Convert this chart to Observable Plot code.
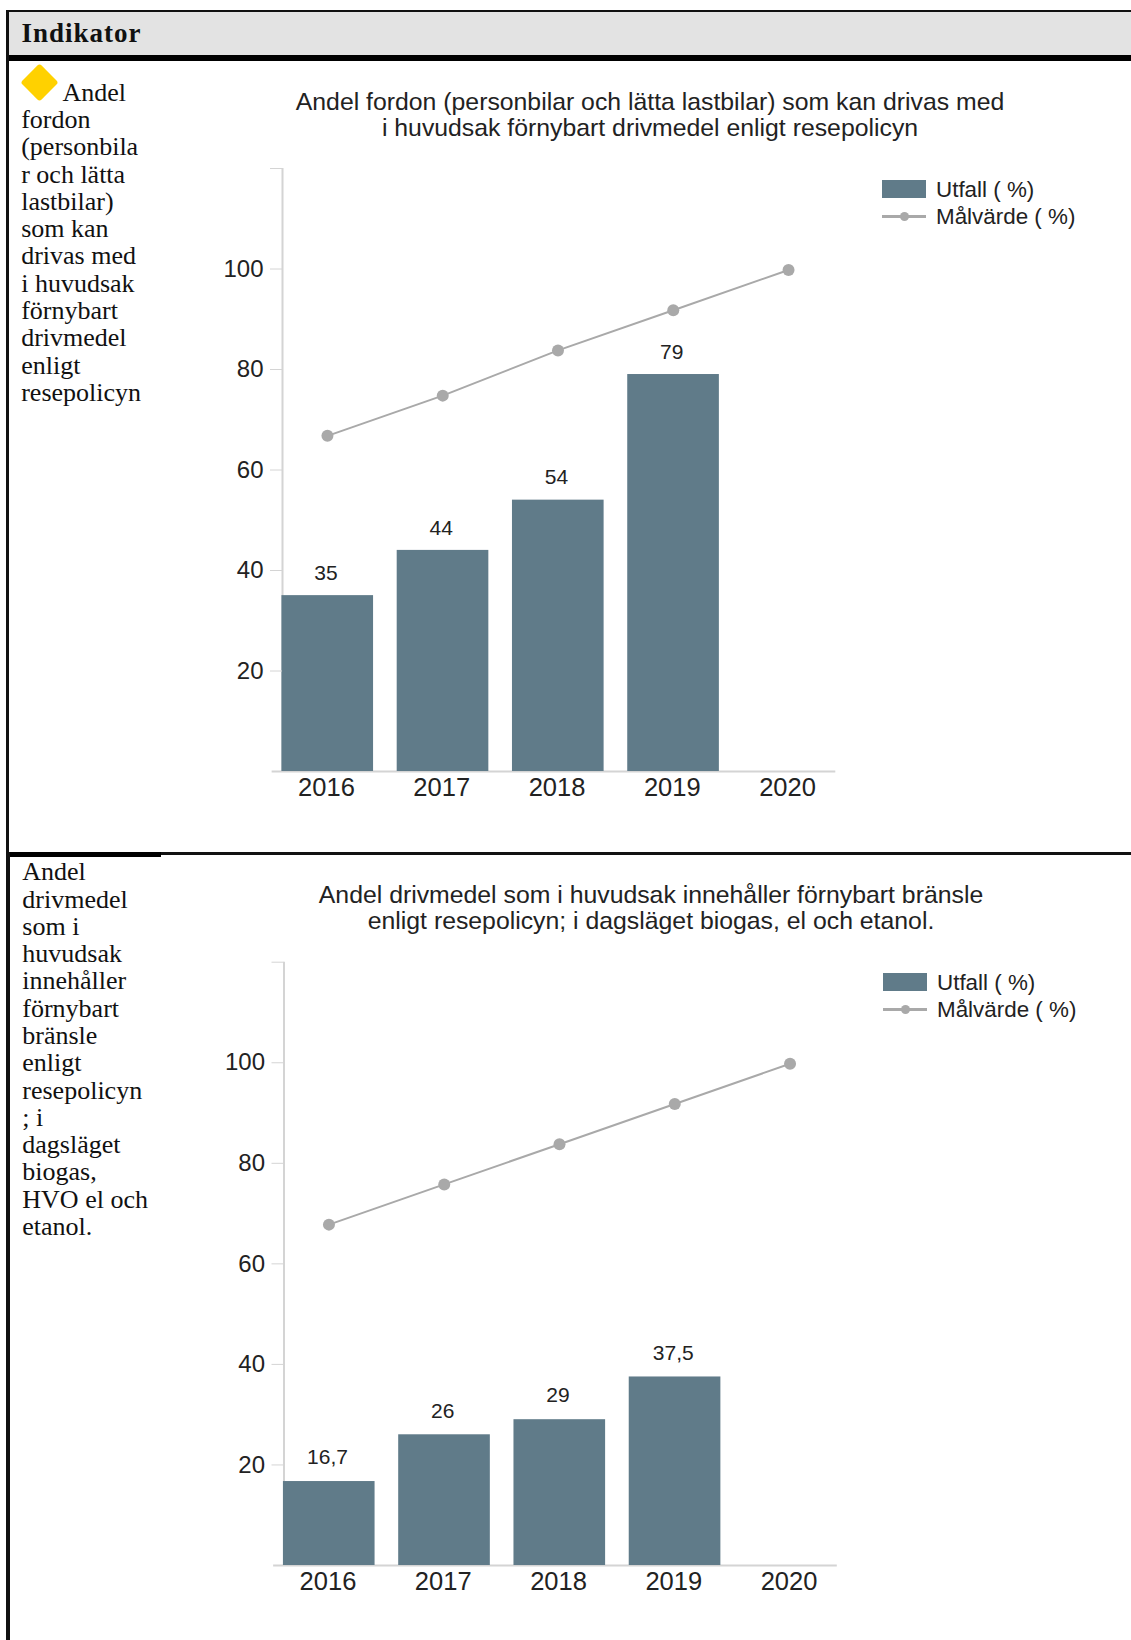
<!DOCTYPE html>
<html><head><meta charset="utf-8">
<script src="https://cdn.jsdelivr.net/npm/d3@7"></script>
<script src="https://cdn.jsdelivr.net/npm/@observablehq/plot@0.6"></script>
<style>
html,body{margin:0;padding:0;background:#fff;overflow:hidden;width:1131px;height:1640px;position:relative}
.abs{position:absolute}
.line{position:absolute;font:26px/27px "Liberation Serif",serif;color:#111;white-space:nowrap}
.title{position:absolute;font:24.8px/26px "Liberation Sans",Arial,sans-serif;color:#222;text-align:center;white-space:nowrap;transform:translateX(-50%)}
.leg{position:absolute;font:22.4px/26px "Liberation Sans",Arial,sans-serif;color:#222;white-space:nowrap}
</style></head><body>
<script>
const years = [2016, 2017, 2018, 2019, 2020];
const utfallA = [35, 44, 54, 79, null];
const malvardeA = [67, 75, 84, 92, 100];
const utfallB = [16.7, 26, 29, 37.5, null];
const malvardeB = [68, 76, 84, 92, 100];
const yTicks = [20, 40, 60, 80, 100, 120];
const titleA = ["Andel fordon (personbilar och lätta lastbilar) som kan drivas med", "i huvudsak förnybart drivmedel enligt resepolicyn"];
const titleB = ["Andel drivmedel som i huvudsak innehåller förnybart bränsle", "enligt resepolicyn; i dagsläget biogas, el och etanol."];
const textA = ["Andel", "fordon", "(personbila", "r och lätta", "lastbilar)", "som kan", "drivas med", "i huvudsak", "förnybart", "drivmedel", "enligt", "resepolicyn"];
const textB = ["Andel", "drivmedel", "som i", "huvudsak", "innehåller", "förnybart", "bränsle", "enligt", "resepolicyn", "; i", "dagsläget", "biogas,", "HVO el och", "etanol."];
const legendNames = ["Utfall ( %)", "Målvärde ( %)"];
const barColor = "#607b89", lineColor = "#a9a9a9", axisColor = "#d4d4d4", ink = "#222";

function box(x, y, w, h, bg) {
  const d = document.createElement("div");
  d.className = "abs";
  d.style.cssText = `left:${x}px;top:${y}px;width:${w}px;height:${h}px;background:${bg}`;
  document.body.appendChild(d);
}
function textLines(lines, x, base) {
  lines.forEach((t, i) => {
    const d = document.createElement("div");
    d.className = "line";
    d.textContent = t;
    d.style.left = (i === 0 && lines === textA ? 62.5 : x) + "px";
    d.style.top = (base + i * 27.28 - 21.7) + "px";
    document.body.appendChild(d);
  });
}
function chart(utfall, malvarde, top, marginLeft, marginRight, marginTop, marginBottom, labelDy, title, titleX, titleY, legX, legY) {
  const rows = years.map((year, i) => ({year, u: utfall[i], m: malvarde[i]}));
  const bars = rows.filter(d => d.u != null);
  const svg = Plot.plot({
    width: 1131, height: 680,
    marginLeft, marginRight, marginTop, marginBottom,
    style: {background: "transparent", overflow: "visible"},
    x: {domain: [2015.61, 2020.41], axis: null},
    y: {domain: [0, 120], axis: null},
    marks: [
      Plot.ruleX([2015.61], {y1: 0, y2: 120, stroke: axisColor, strokeWidth: 2}),
      Plot.ruleY([0], {x1: 2015.52, x2: 2020.41, stroke: axisColor, strokeWidth: 2}),
      Plot.rectY(bars, {x1: d => d.year - 0.395, x2: d => d.year + 0.4, y: "u", fill: barColor}),
      Plot.axisY({ticks: yTicks, tickSize: 12, tickPadding: 7, stroke: axisColor, fill: ink, fontSize: 24,
        fontFamily: "Liberation Sans", tickFormat: d => d === 120 ? "" : String(d), label: null}),
      Plot.axisX({ticks: years, tickSize: 0, tickPadding: 6, fill: ink, fontSize: 25.5, dx: -1,
        fontFamily: "Liberation Sans", tickFormat: d => String(d), label: null}),
      Plot.line(rows, {x: "year", y: "m", dy: 1, stroke: lineColor, strokeWidth: 2}),
      Plot.dot(rows, {x: "year", y: "m", dy: 1, fill: lineColor, r: 6}),
      Plot.text(bars, {x: "year", y: "u", dx: -1.5, dy: labelDy, text: d => String(d.u).replace(".", ","), fill: ink,
        fontSize: 21, fontFamily: "Liberation Sans"})
    ]
  });
  svg.style.position = "absolute";
  svg.style.left = "0px";
  svg.style.top = top + "px";
  document.body.appendChild(svg);

  title.forEach((t, i) => {
    const d = document.createElement("div");
    d.className = "title";
    d.textContent = t;
    d.style.left = titleX + "px";
    d.style.top = (titleY + i * 26) + "px";
    document.body.appendChild(d);
  });
  box(legX, legY, 44, 18, barColor);
  box(legX, legY + 35, 44, 3, lineColor);
  const dot = document.createElement("div");
  dot.className = "abs";
  dot.style.cssText = `left:${legX + 18}px;top:${legY + 32}px;width:9px;height:9px;border-radius:50%;background:${lineColor}`;
  document.body.appendChild(dot);
  legendNames.forEach((t, i) => {
    const d = document.createElement("div");
    d.className = "leg";
    d.textContent = t;
    d.style.left = (legX + 54) + "px";
    d.style.top = (legY - 3.5 + i * 27.5) + "px";
    document.body.appendChild(d);
  });
}

// table frame
box(6, 10, 1125, 2.5, "#111");
box(8, 12, 1123, 43, "#e3e3e3");
box(6, 55, 1125, 6, "#000");
box(6, 10, 2.5, 845, "#111");
box(6, 852, 1125, 2.5, "#111");
box(6, 852, 155, 4.5, "#000");
box(6, 852, 3.5, 788, "#111");

const head = document.createElement("div");
head.className = "line";
head.textContent = "Indikator";
head.style.cssText = "left:21.5px;top:20px;font-weight:bold;font-size:27px;letter-spacing:1px";
document.body.appendChild(head);

// yellow diamond
const dia = document.createElement("div");
dia.className = "abs";
dia.style.cssText = "left:26px;top:69px;width:27px;height:27px;background:#ffd100;border-radius:3px;transform:rotate(45deg)";
document.body.appendChild(dia);

textLines(textA, 21.2, 100.5);
textLines(textB, 22.3, 880);

chart(utfallA, malvardeA, 140, 282, 295.7, 28, 49, -22.5, titleA, 650, 88.5, 882, 180);
chart(utfallB, malvardeB, 933, 283.5, 294.2, 28.7, 48, -24, titleB, 651, 881.5, 883, 973);
</script>
</body></html>
